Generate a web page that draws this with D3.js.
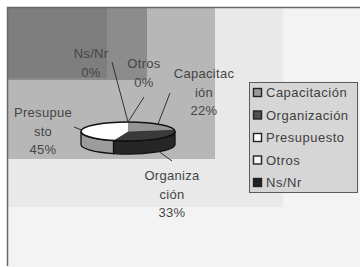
<!DOCTYPE html>
<html>
<head>
<meta charset="utf-8">
<script src="https://cdn.jsdelivr.net/npm/d3@7"></script>
<style>
  body { margin: 0; background: #ffffff; }
  text { font-family: "Liberation Sans", Arial, sans-serif; }
</style>
</head>
<body>
<div id="chart"></div>
<script>
// data
var categories = ["Capacitación", "Organización", "Presupuesto", "Otros", "Ns/Nr"];
var values = [22, 33, 45, 0, 0];
var labelLines = [["Capacitac", "ión"], ["Organiza", "ción"], ["Presupue", "sto"], ["Otros"], ["Ns/Nr"]];

// size
var w = 360, h = 267;

var svg = d3.select("#chart")
  .append("svg")
  .attr("width", w)
  .attr("height", h);

// shaded background (scanned excel look)
var bands = [
  { x1: 360, y1: 267, fill: "#f3f3f3" },
  { x1: 283, y1: 207, fill: "#e9e9e9" },
  { x1: 215, y1: 159, fill: "#b7b7b7" },
  { x1: 147, y1: 80,  fill: "#8c8c8c" },
  { x1: 107, y1: 78,  fill: "#7e7e7e" }
];
svg.selectAll("rect.band")
  .data(bands)
  .enter()
  .append("rect")
  .attr("class", "band")
  .attr("x", 7)
  .attr("y", 7)
  .attr("width", function(d){ return d.x1 - 7; })
  .attr("height", function(d){ return d.y1 - 7; })
  .attr("fill", function(d){ return d.fill; });

// frame
svg.append("path")
  .attr("d", "M7.5,266 L7.5,7.5 L360,7.5")
  .attr("fill", "none")
  .attr("stroke", "#6a6a6a")
  .attr("stroke-width", 1.5);

// pie geometry
var cx = 128, cy = 131.5, rx = 47, ry = 9.5, depth = 13;
var topColor = ["#959595", "#3a3a3a", "#ffffff", "#ffffff", "#2a2a2a"];
var sideColor = ["#6c6c6c", "#262626", "#9c9c9c", "#9c9c9c", "#1a1a1a"];

var pie = d3.pie().sort(null).startAngle(0).endAngle(2 * Math.PI);
var arcs = pie(values);

function pt(a, dy) {
  return [cx + rx * Math.sin(a), cy - ry * Math.cos(a) + (dy || 0)];
}

function topPath(d) {
  if (d.endAngle - d.startAngle <= 0) return null;
  var p0 = pt(d.startAngle), p1 = pt(d.endAngle);
  var large = (d.endAngle - d.startAngle) > Math.PI ? 1 : 0;
  return "M" + cx + "," + cy + "L" + p0 + "A" + rx + "," + ry + " 0 " + large + " 1 " + p1 + "Z";
}

function sidePath(d) {
  var a0 = Math.max(d.startAngle, Math.PI / 2);
  var a1 = Math.min(d.endAngle, 3 * Math.PI / 2);
  if (a1 <= a0) return null;
  var p0 = pt(a0), p1 = pt(a1), q0 = pt(a0, depth), q1 = pt(a1, depth);
  return "M" + p0 + "A" + rx + "," + ry + " 0 0 1 " + p1 +
    "L" + q1 + "A" + rx + "," + ry + " 0 0 0 " + q0 + "Z";
}

var pieG = svg.append("g");

pieG.selectAll("path.side")
  .data(arcs.filter(function(d){ return sidePath(d); }))
  .enter()
  .append("path")
  .attr("class", "side")
  .attr("d", sidePath)
  .attr("fill", function(d){ return sideColor[d.index]; })
  .attr("stroke", "#111")
  .attr("stroke-width", 1.3);

pieG.selectAll("path.top")
  .data(arcs.filter(function(d){ return topPath(d); }))
  .enter()
  .append("path")
  .attr("class", "top")
  .attr("d", topPath)
  .attr("fill", function(d){ return topColor[d.index]; })
  .attr("stroke", "none");

// rim of top face
pieG.append("ellipse")
  .attr("cx", cx)
  .attr("cy", cy)
  .attr("rx", rx)
  .attr("ry", ry)
  .attr("fill", "none")
  .attr("stroke", "#111")
  .attr("stroke-width", 1.6);

// labels: offsets from pie centre (label anchor, leader end)
var labelPos = [[76, -53.5], [44, 48.5], [-85, -14.5], [16, -63.5], [-37, -73.5]];
var leaderEnd = [[42, -38.5], [44, 29.5], [-54, -4.5], [16, -34.5], [-16, -69.5]];
var total = d3.sum(values);
var lineH = 18.5;

var lab = svg.append("g").selectAll("g")
  .data(arcs)
  .enter()
  .append("g");

lab.append("line")
  .attr("x1", function(d){
    var m = (d.startAngle + d.endAngle) / 2;
    return pt(m)[0];
  })
  .attr("y1", function(d){
    var m = (d.startAngle + d.endAngle) / 2;
    return pt(m, Math.cos(m) < 0 ? depth : 0)[1];
  })
  .attr("x2", function(d){ return cx + leaderEnd[d.index][0]; })
  .attr("y2", function(d){ return cy + leaderEnd[d.index][1]; })
  .attr("stroke", "#333")
  .attr("stroke-width", 1);

lab.append("text")
  .attr("text-anchor", "middle")
  .attr("font-size", 13)
  .attr("fill", "#454545")
  .style("letter-spacing", "0.3px")
  .selectAll("tspan")
  .data(function(d){
    return labelLines[d.index].concat([Math.round(d.value / total * 100) + "%"])
      .map(function(t){ return { t: t, d: d }; });
  })
  .enter()
  .append("tspan")
  .attr("x", function(o){ return cx + labelPos[o.d.index][0]; })
  .attr("y", function(o, i){ return cy + labelPos[o.d.index][1] + i * lineH; })
  .text(function(o){ return o.t; });

// legend
var legendColor = ["#9a9a9a", "#505050", "#ffffff", "#f4f4f4", "#222222"];
var leg = svg.append("g");
leg.append("rect")
  .attr("x", 249.5)
  .attr("y", 82.5)
  .attr("width", 108)
  .attr("height", 110)
  .attr("fill", "#d6d6d6")
  .attr("stroke", "#5a5a5a")
  .attr("stroke-width", 1);

var rowY = d3.scalePoint()
  .domain(categories)
  .range([97, 187]);

var item = leg.selectAll("g.item")
  .data(categories)
  .enter()
  .append("g")
  .attr("class", "item")
  .attr("transform", function(d){ return "translate(0," + rowY(d) + ")"; });

item.append("rect")
  .attr("x", 253.5)
  .attr("y", -8.5)
  .attr("width", 8)
  .attr("height", 8)
  .attr("fill", function(d, i){ return legendColor[i]; })
  .attr("stroke", "#222")
  .attr("stroke-width", 1.4);

item.append("text")
  .attr("x", 266)
  .attr("y", 0)
  .attr("font-size", 13)
  .attr("fill", "#404040")
  .style("letter-spacing", "0.5px")
  .text(function(d){ return d; });
</script>
</body>
</html>
